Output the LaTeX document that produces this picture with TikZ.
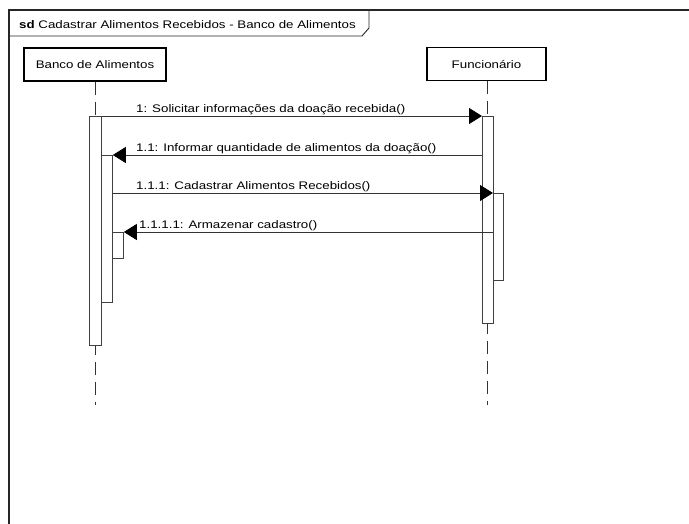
\documentclass[tikz,border=0pt]{standalone}
\usepackage{fontspec}
\setmainfont{Liberation Sans}[FakeStretch=1.21]
\usetikzlibrary{arrows.meta}
\begin{document}
\begin{tikzpicture}[x=1pt,y=-1pt,
  lbl/.style={font=\fontsize{11}{13}\selectfont, inner sep=0pt, anchor=base west},
  actor/.style={draw=black, line width=1.6pt, fill=white, minimum width=#1, minimum height=33pt, inner sep=0pt,
                font=\fontsize{11}{13}\selectfont},
  bar/.style={draw=black!75, line width=0.8pt, fill=white, inner sep=0pt, anchor=north west},
  lifeline/.style={draw=black!80, line width=0.9pt, dash pattern=on 13pt off 7pt},
  msg/.style={draw=black!80, line width=0.8pt, -{Triangle[length=13pt,width=16pt,color=black]}},
]
\useasboundingbox (0,0) rectangle (689,523);
% frame
\draw[line width=1.4pt, black!85] (9,540) -- (9,10) -- (700,10);
\draw[line width=0.9pt, black!85] (9,36) -- (362,36) -- (369,28) -- (369,10);
\node[lbl] (title) at (19,28.5) {\textbf{sd} Cadastrar Alimentos Recebidos - Banco de Alimentos};

% participants
\node[actor=142pt] (banco) at (95,64.5) {Banco de Alimentos};
\node[actor=119pt] (func) at (486.5,64) {Funcionário};
\coordinate (bancoEnd) at (95,405);
\coordinate (funcEnd) at (487,405);
\draw[lifeline] (banco.south) -- (bancoEnd);
\draw[lifeline] (func.south -| funcEnd) -- (funcEnd);

% activations
\node[bar, minimum width=12pt, minimum height=229pt] (b1) at (89,116) {};
\node[bar, minimum width=11pt, minimum height=147pt] (b2) at (101,155) {};
\node[bar, minimum width=11pt, minimum height=26pt] (b3) at (112,232) {};
\node[bar, minimum width=11pt, minimum height=207pt] (f1) at (482,116) {};
\node[bar, minimum width=10pt, minimum height=87pt] (f2) at (493,193) {};

% messages
\draw[msg] (b1.north east) -- (f1.north west);
\node[lbl] (m1) at (136,112) {1: Solicitar informações da doação recebida()};
\draw[msg] (f1.west |- b2.north) -- (b2.north east);
\node[lbl] (m2) at (136,151) {1.1: Informar quantidade de alimentos da doação()};
\draw[msg] (b2.east |- f2.north) -- (f2.north west);
\node[lbl] (m3) at (136,189) {1.1.1: Cadastrar Alimentos Recebidos()};
\draw[msg] (f2.west |- b3.north) -- (b3.north east);
\node[lbl] (m4) at (139,228) {1.1.1.1: Armazenar cadastro()};
\end{tikzpicture}
\end{document}
